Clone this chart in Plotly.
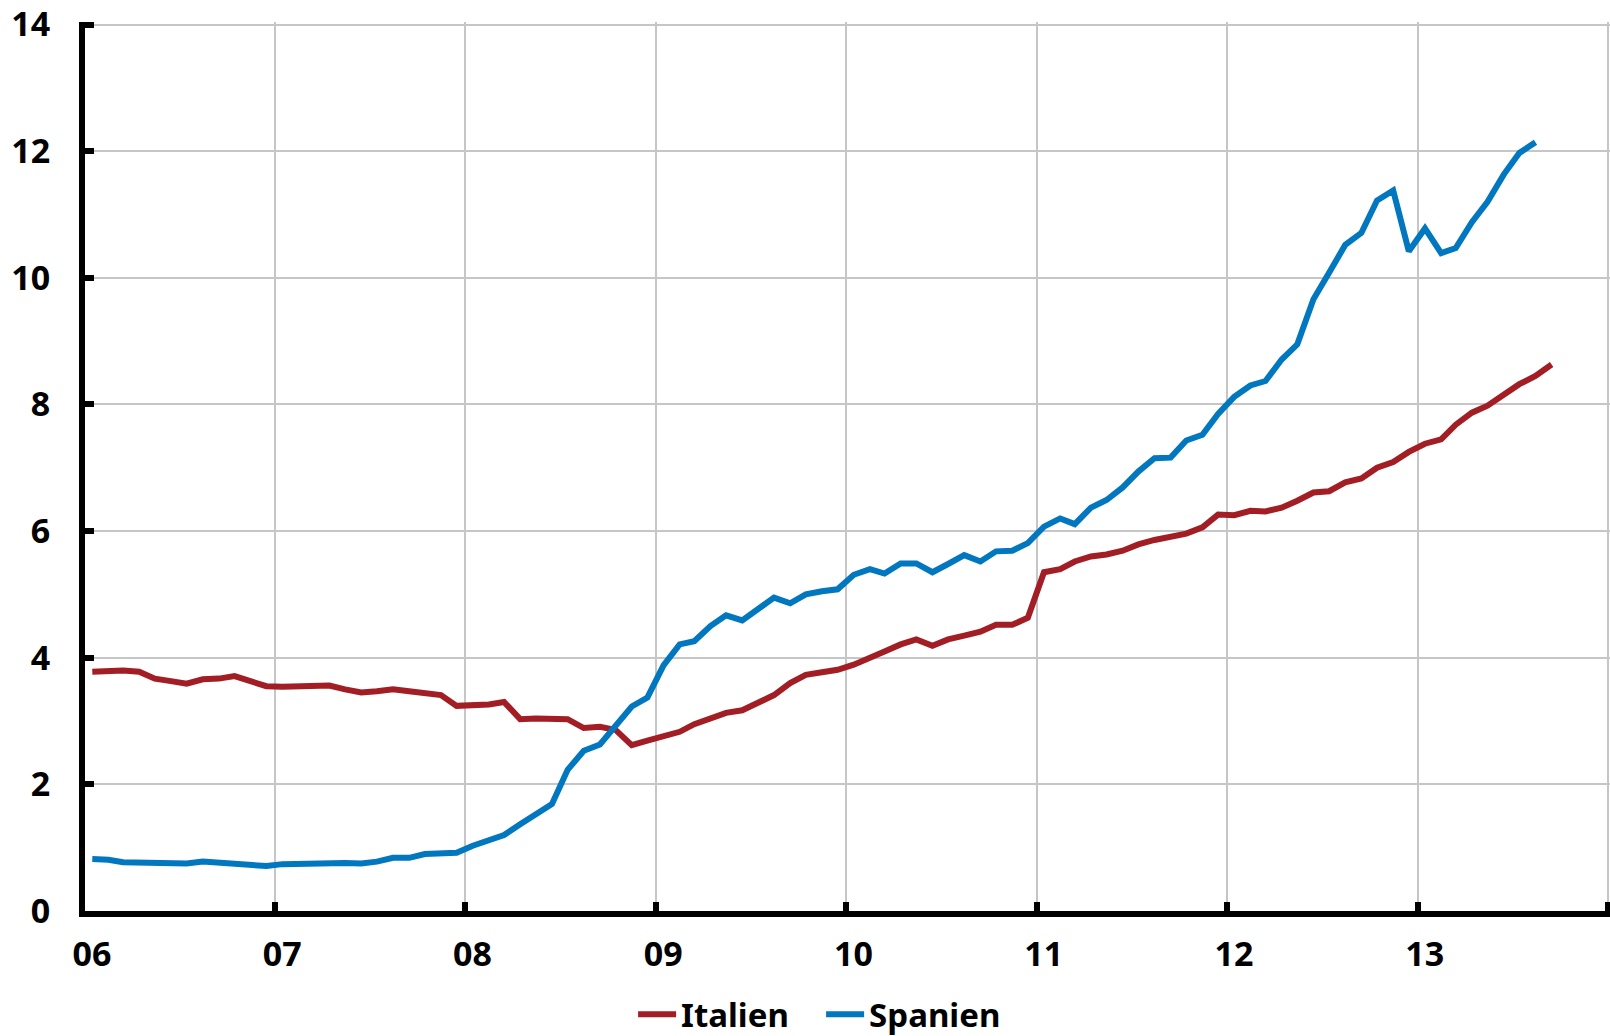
import pandas as pd
import plotly.graph_objects as go

# Monthly values (mid-month), Italien Jan 2006 - Sep 2013, Spanien Jan 2006 - Aug 2013
italien = [
    3.78, 3.80, 3.80, 3.78, 3.67, 3.63, 3.59, 3.66, 3.67, 3.71, 3.63, 3.55,
    3.54, 3.55, 3.55, 3.56, 3.50, 3.45, 3.47, 3.50, 3.47, 3.45, 3.41, 3.24,
    3.24, 3.26, 3.30, 3.03, 3.04, 3.03, 3.03, 2.89, 2.91, 2.86, 2.62, 2.69,
    2.75, 2.83, 2.95, 3.05, 3.13, 3.17, 3.29, 3.41, 3.60, 3.73, 3.77, 3.81,
    3.89, 3.99, 4.10, 4.21, 4.29, 4.19, 4.29, 4.35, 4.41, 4.52, 4.52, 4.63,
    5.35, 5.40, 5.52, 5.60, 5.63, 5.69, 5.79, 5.86, 5.90, 5.96, 6.06, 6.26,
    6.25, 6.32, 6.31, 6.37, 6.48, 6.61, 6.63, 6.77, 6.83, 7.00, 7.09, 7.25,
    7.38, 7.45, 7.68, 7.87, 7.98, 8.16, 8.32, 8.45, 8.63,
]
spanien = [
    0.82, 0.81, 0.77, 0.77, 0.77, 0.75, 0.75, 0.78, 0.76, 0.76, 0.73, 0.71,
    0.74, 0.75, 0.75, 0.75, 0.76, 0.75, 0.78, 0.84, 0.84, 0.90, 0.92, 0.92,
    1.03, 1.13, 1.20, 1.37, 1.54, 1.69, 2.23, 2.53, 2.63, 2.93, 3.23, 3.37,
    3.88, 4.21, 4.26, 4.50, 4.67, 4.59, 4.76, 4.95, 4.86, 5.00, 5.05, 5.08,
    5.31, 5.40, 5.33, 5.49, 5.49, 5.35, 5.48, 5.62, 5.52, 5.68, 5.69, 5.81,
    6.07, 6.20, 6.11, 6.37, 6.49, 6.69, 6.94, 7.15, 7.16, 7.43, 7.52, 7.85,
    8.12, 8.30, 8.37, 8.71, 8.95, 9.66, 10.08, 10.52, 10.71, 11.22, 11.38, 10.42,
    10.78, 10.39, 10.47, 10.88, 11.20, 11.63, 11.97, 12.14,
]
year_ticks = ["2006-01-01", "2007-01-01", "2008-01-01", "2009-01-01", "2010-01-01",
              "2011-01-01", "2012-01-01", "2013-01-01", "2014-01-01"]
year_labels = ["06", "07", "08", "09", "10", "11", "12", "13", ""]
y_ticks = [0, 2, 4, 6, 8, 10, 12, 14]

months_it = pd.date_range("2006-01-01", periods=len(italien), freq="MS") + pd.Timedelta(days=14)
months_es = pd.date_range("2006-01-01", periods=len(spanien), freq="MS") + pd.Timedelta(days=14)

RED = "#A31D24"
BLUE = "#0077BE"
FONT = "Noto Sans"

fig = go.Figure()
fig.add_trace(go.Scatter(x=months_it, y=italien, mode="lines", name="Italien",
                         line=dict(color=RED, width=6)))
fig.add_trace(go.Scatter(x=months_es, y=spanien, mode="lines", name="Spanien",
                         line=dict(color=BLUE, width=6)))

fig.update_layout(
    width=1610, height=1036,
    margin=dict(l=85, r=0, t=20, b=125),
    paper_bgcolor="white", plot_bgcolor="white",
    font=dict(family=FONT, color="black", size=34, weight="bold"),
    showlegend=True,
    legend=dict(orientation="h", xref="container", yref="container",
                x=0.51, y=0.021, xanchor="center", yanchor="middle",
                font=dict(family=FONT, size=33, color="black", weight="bold"),
                itemwidth=38, entrywidth=135, tracegroupgap=0,
                bgcolor="rgba(0,0,0,0)"),
)
fig.update_xaxes(
    type="date", range=["2006-01-01", "2014-01-05"],
    tickmode="array", tickvals=year_ticks, ticktext=year_labels,
    showgrid=True, gridcolor="#C6C6C6", gridwidth=1.5,
    showline=True, linecolor="black", linewidth=6,
    ticks="inside", ticklen=9, tickwidth=6, tickcolor="black",
    ticklabelshift=7, ticklabelstandoff=8,
    tickfont=dict(family=FONT, size=34, color="black", weight="bold"),
    zeroline=False,
)
fig.update_yaxes(
    range=[0, 14.04], tickmode="array", tickvals=y_ticks,
    showgrid=True, gridcolor="#C6C6C6", gridwidth=1.5,
    showline=True, linecolor="black", linewidth=6,
    ticks="inside", ticklen=9, tickwidth=6, tickcolor="black",
    ticklabelstandoff=22, ticklabeloverflow="allow",
    tickfont=dict(family=FONT, size=34, color="black", weight="bold"),
    zeroline=False,
)

fig.write_html("out.html", config={"displayModeBar": False},
               post_script="document.body.style.margin='0';document.body.style.overflow='hidden';")
